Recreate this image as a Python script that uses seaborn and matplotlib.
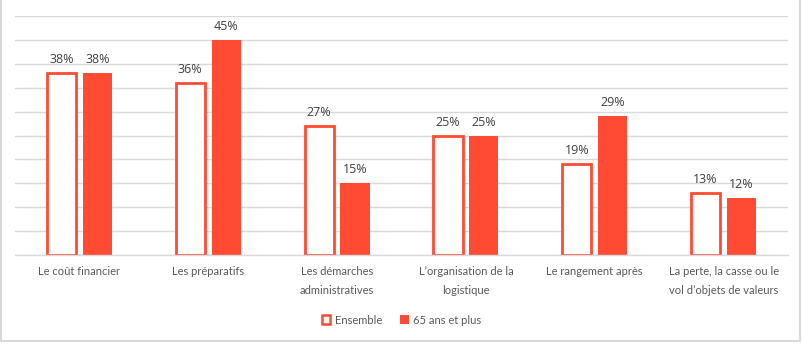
import matplotlib
matplotlib.use("Agg")
import matplotlib.pyplot as plt
import seaborn as sns
import pandas as pd
from matplotlib.lines import Line2D
from matplotlib.patches import Patch

categories = ["Le coût financier", "Les préparatifs", "Les démarches\nadministratives",
              "L’organisation de la\nlogistique", "Le rangement après",
              "La perte, la casse ou le\nvol d’objets de valeurs"]
series_names = ["Ensemble", "65 ans et plus"]
ensemble = [38, 36, 27, 25, 19, 13]
plus65 = [38, 45, 15, 25, 29, 12]

RED = "#FF4B33"
GRID = "#D9D9D9"

sns.set_theme(style="white")
plt.rcParams['font.family'] = ['Lato', 'DejaVu Sans']

df = pd.DataFrame({
    "cat": categories * 2,
    "serie": [series_names[0]] * 6 + [series_names[1]] * 6,
    "val": ensemble + plus65,
})

fig = plt.figure(figsize=(8.03, 3.44), dpi=100)
ax = fig.add_axes([15/803, 1 - 255/344, 773/803, 239/344])

sns.barplot(data=df, x="cat", y="val", hue="serie", order=categories,
            hue_order=series_names, palette=[RED, RED], width=0.558, gap=0.19,
            legend=False, ax=ax, errorbar=None)

# style Ensemble bars: white fill, red outline
for i, cont in enumerate(ax.containers):
    for bar in cont:
        if i == 0:
            bar.set_facecolor("white")
            bar.set_edgecolor(RED)
            bar.set_linewidth(2)
        else:
            bar.set_facecolor(RED)
            bar.set_edgecolor("none")
    ax.bar_label(cont, labels=[f"{v:.0f}%" for v in cont.datavalues],
                 padding=5, fontsize=9, color="#404040",
                 family=['Open Sans', 'DejaVu Sans'])

ax.set_ylim(0, 50)
ax.set_xlim(-0.5, 5.5)
ax.set_yticks(range(0, 51, 5))
ax.set_yticklabels([])
ax.yaxis.grid(True, color=GRID, linewidth=1)
ax.set_axisbelow(True)
ax.tick_params(axis="both", length=0)
ax.tick_params(axis="x", pad=8, labelsize=8, labelcolor="#595959")
for lbl in ax.get_xticklabels():
    lbl.set_linespacing(1.9)
ax.set_xlabel("")
ax.set_ylabel("")
for s in ["top", "left", "right"]:
    ax.spines[s].set_visible(False)
ax.spines["bottom"].set_color(GRID)
ax.spines["bottom"].set_linewidth(1)

handles = [Patch(facecolor="white", edgecolor=RED, linewidth=1.8),
           Patch(facecolor=RED, edgecolor="none")]
fig.legend(handles, series_names, loc="center", bbox_to_anchor=(0.5, 1 - 320/344),
           ncol=2, frameon=False, fontsize=8, handlelength=0.8, handleheight=0.8,
           handletextpad=0.4, columnspacing=1.6, labelcolor="#595959")

# outer frame
fig.add_artist(Line2D([1.5/803, 1.5/803], [1 - 341/344, 1], color=GRID, lw=1.5,
                      transform=fig.transFigure))
fig.add_artist(Line2D([800.5/803, 800.5/803], [1 - 341/344, 1], color=GRID, lw=1.5,
                      transform=fig.transFigure))
fig.add_artist(Line2D([1.5/803, 800.5/803], [1 - 341/344, 1 - 341/344], color=GRID, lw=1.5,
                      transform=fig.transFigure))

fig.savefig("out.png", dpi=100, facecolor="white")
